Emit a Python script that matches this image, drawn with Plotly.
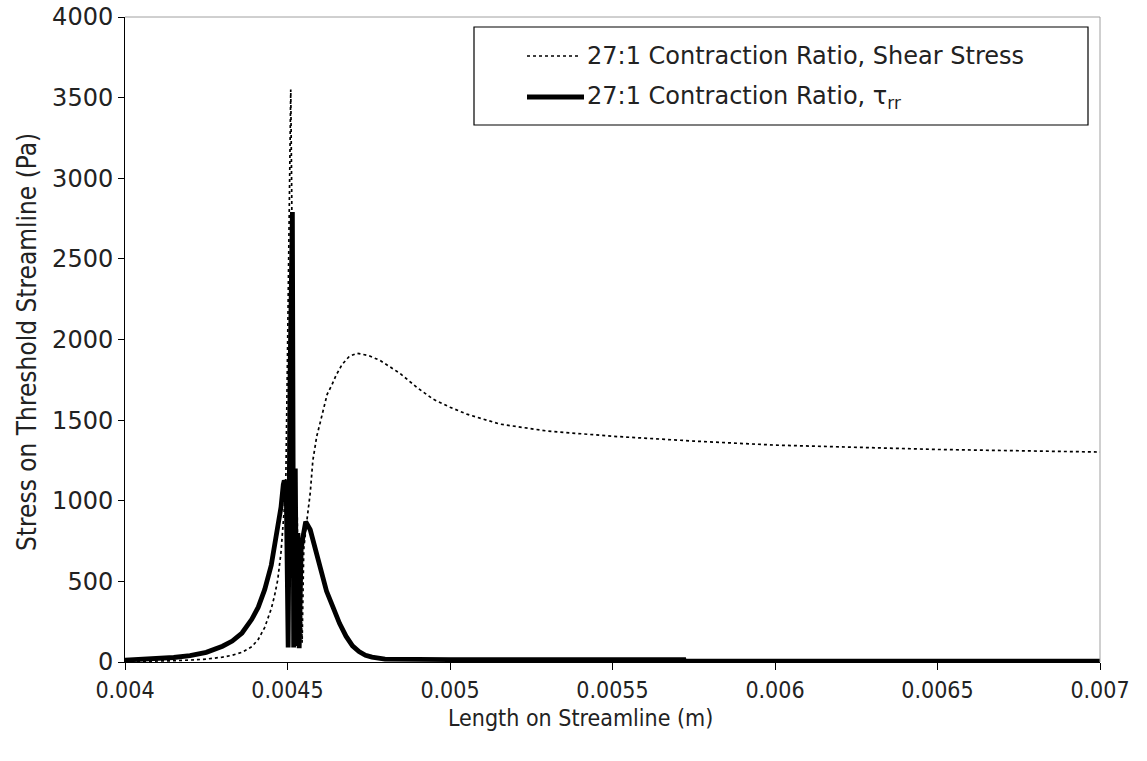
import plotly.graph_objects as go

# ---- data ----
shear_x = [0.004, 0.00405, 0.0041, 0.00415, 0.0042, 0.00425, 0.0043, 0.00433, 0.00436,
           0.00439, 0.00441, 0.00443, 0.00445, 0.00446, 0.00447, 0.00448, 0.00449,
           0.004495, 0.0045, 0.004505, 0.00451, 0.004513, 0.004516, 0.00452, 0.004525,
           0.00453, 0.004535, 0.00454, 0.004545, 0.00455, 0.004558, 0.004565, 0.00457,
           0.004578, 0.00459, 0.0046, 0.00461, 0.004622, 0.004637, 0.00465, 0.004668,
           0.00469, 0.004714, 0.00475, 0.004785, 0.004846, 0.0049, 0.004948, 0.005,
           0.005052, 0.005154, 0.0053, 0.0055, 0.00575, 0.006, 0.00625, 0.0065, 0.00675, 0.007]
shear_y = [2, 3, 5, 8, 12, 18, 30, 42, 60,
           95, 140, 215, 330, 410, 510, 680, 950,
           1150, 1900, 2800, 3550, 2900, 1500, 600, 150,
           900, 100, 500, 120, 700, 850, 960, 1050,
           1250, 1400, 1480, 1560, 1660, 1720, 1780, 1845,
           1895, 1915, 1900, 1870, 1790, 1700, 1630, 1580,
           1537, 1475, 1432, 1400, 1370, 1345, 1330, 1318, 1310, 1302]

trr_x = [0.004, 0.0041, 0.00415, 0.0042, 0.00425, 0.0043, 0.00433, 0.00436, 0.00439,
         0.00441, 0.00443, 0.00445, 0.00447, 0.00448, 0.004487, 0.00449, 0.004496,
         0.004502, 0.004508, 0.004515, 0.004519, 0.004524, 0.004528, 0.004532, 0.004536,
         0.004542, 0.004548, 0.004556, 0.00457, 0.00458, 0.00459, 0.0046, 0.00462,
         0.00464, 0.00466, 0.00468, 0.0047, 0.00472, 0.00474, 0.00476, 0.00478, 0.0048,
         0.005, 0.0055, 0.00572, 0.005721, 0.006, 0.0065, 0.007]
trr_y = [12, 22, 28, 40, 60, 98, 130, 180, 265,
         340, 450, 600, 820, 960, 1100, 1125, 1100,
         90, 1800, 2790, 90, 1200, 100, 800, 85,
         700, 780, 870, 820, 740, 660, 580, 440,
         340, 240, 160, 100, 65, 42, 30, 22, 18,
         15, 15, 14, 6, 6, 6, 6]

x_ticks = [0.004, 0.0045, 0.005, 0.0055, 0.006, 0.0065, 0.007]
x_tick_labels = ["0.004", "0.0045", "0.005", "0.0055", "0.006", "0.0065", "0.007"]
y_ticks = [0, 500, 1000, 1500, 2000, 2500, 3000, 3500, 4000]

label_shear = "27:1 Contraction Ratio, Shear Stress"
label_trr = "27:1 Contraction Ratio, τ<sub>rr</sub>"

W, H = 1147, 761
L, R, T, B = 125, 47, 17, 99
PW, PH = W - L - R, H - T - B

def px(xp):
    return (xp - L) / PW

def py(yp):
    return (H - B - yp) / PH

fig = go.Figure()
fig.add_trace(go.Scatter(x=shear_x, y=shear_y, mode="lines", name=label_shear,
                         line=dict(color="black", width=1.7, dash="dot"), showlegend=False))
fig.add_trace(go.Scatter(x=trr_x, y=trr_y, mode="lines", name=label_trr,
                         line=dict(color="black", width=4.8), showlegend=False))

narrow = "Liberation Sans Narrow, DejaVu Sans Condensed, Liberation Sans"

fig.update_layout(
    width=W, height=H,
    margin=dict(l=L, r=R, t=T, b=B, autoexpand=False),
    paper_bgcolor="white", plot_bgcolor="white",
    xaxis=dict(range=[0.004, 0.007], tickvals=x_ticks, ticktext=x_tick_labels,
               showgrid=False, zeroline=False, showline=True, linecolor="black", linewidth=1,
               ticks="outside", ticklen=7, tickcolor="black", automargin=False,
               tickfont=dict(family=narrow, size=23, color="#222")),
    yaxis=dict(range=[0, 4000], tickvals=y_ticks, showgrid=False, zeroline=False,
               showline=True, linecolor="black", linewidth=1, automargin=False,
               ticks="outside", ticklen=6, tickcolor="black",
               tickfont=dict(family="DejaVu Sans", size=24, color="#222")),
    showlegend=False,
)

# axis titles (positioned as in the reference)
fig.add_annotation(x=px(580), y=py(718), xref="paper", yref="paper", showarrow=False,
                   xanchor="center", yanchor="middle",
                   text="Length on Streamline (m)",
                   font=dict(family=narrow, size=23, color="#222"))
fig.add_annotation(x=px(27), y=py(342), xref="paper", yref="paper", showarrow=False,
                   xanchor="center", yanchor="middle", textangle=-90,
                   text="Stress on Threshold Streamline (Pa)",
                   font=dict(family=narrow, size=26, color="#222"))

# grey frame on top and right of plot area
fig.add_shape(type="line", xref="paper", yref="paper", x0=0, x1=1, y0=1, y1=1,
              line=dict(color="#a0a0a0", width=1))
fig.add_shape(type="line", xref="paper", yref="paper", x0=1, x1=1, y0=0, y1=1,
              line=dict(color="#a0a0a0", width=1))

# legend box
fig.add_shape(type="rect", xref="paper", yref="paper", x0=px(474), x1=px(1088),
              y0=py(125), y1=py(27), line=dict(color="black", width=1.2),
              fillcolor="white")
fig.add_shape(type="line", xref="paper", yref="paper", x0=px(527), x1=px(581),
              y0=py(56), y1=py(56), line=dict(color="black", width=1.7, dash="dot"))
fig.add_shape(type="line", xref="paper", yref="paper", x0=px(527), x1=px(584),
              y0=py(97), y1=py(97), line=dict(color="black", width=4.8))
fig.add_annotation(x=px(585), y=py(56), xref="paper", yref="paper", showarrow=False,
                   xanchor="left", yanchor="middle", text=label_shear,
                   font=dict(family="DejaVu Sans", size=24, color="#222"))
fig.add_annotation(x=px(585), y=py(97), xref="paper", yref="paper", showarrow=False,
                   xanchor="left", yanchor="middle", text=label_trr,
                   font=dict(family="DejaVu Sans", size=24, color="#222"))

fig.write_html("out.html")
